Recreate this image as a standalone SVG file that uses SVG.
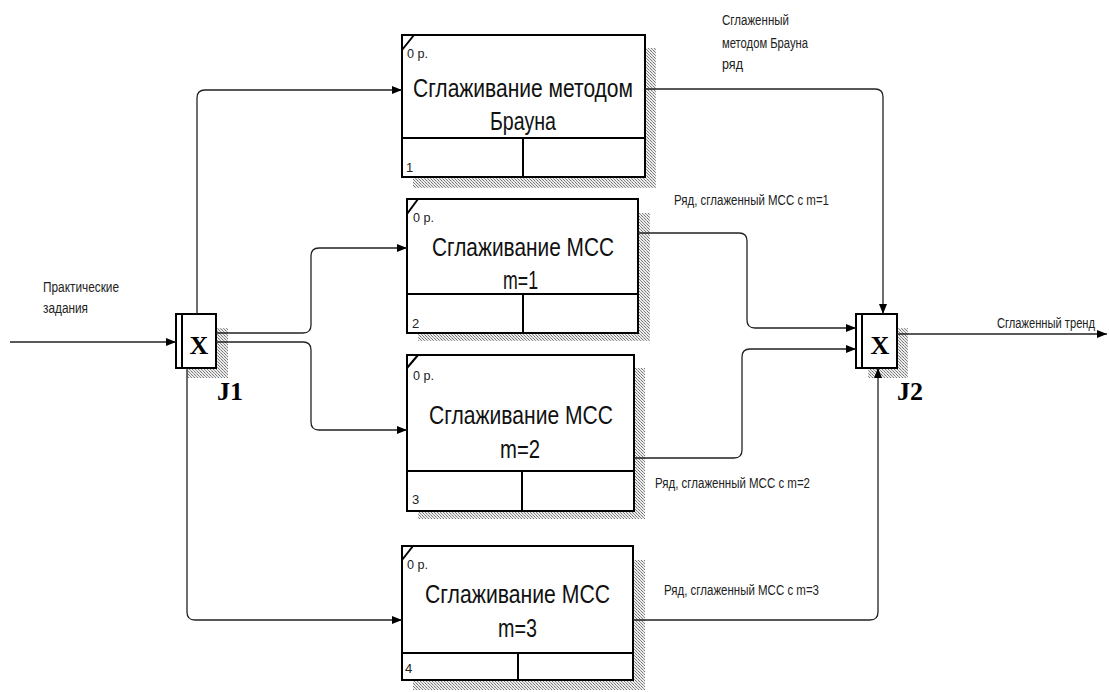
<svg xmlns="http://www.w3.org/2000/svg" width="1109" height="692" viewBox="0 0 1109 692">
<style>
.box{fill:#fff;stroke:#000;stroke-width:2}
.div{stroke:#000;stroke-width:2;fill:none}
.sh{fill:url(#hatch)}
.title{font-family:"Liberation Sans Narrow","Liberation Sans",Arial,sans-serif;font-size:25px;fill:#111}
.small{font-family:"Liberation Sans Narrow","Liberation Sans",Arial,sans-serif;font-size:13px;fill:#222}
.lbl{font-family:"Liberation Sans Narrow","Liberation Sans",Arial,sans-serif;font-size:14px;fill:#222}
.jx{font-family:"Liberation Serif","Times New Roman",serif;font-weight:bold;font-size:26px;fill:#000}
.jl{font-family:"Liberation Serif","Times New Roman",serif;font-weight:bold;font-size:26px;fill:#000}
.con{fill:none;stroke:#222;stroke-width:1.3}
</style>
<defs>
<pattern id="hatch" width="3" height="3" patternUnits="userSpaceOnUse">
<rect width="3" height="3" fill="#ececec"/>
<rect x="0" y="0" width="1" height="1" fill="#777"/>
<rect x="1" y="1" width="1" height="1" fill="#999"/>
<rect x="2" y="2" width="1" height="1" fill="#777"/>
</pattern>
<marker id="arr" viewBox="0 0 10 10" refX="10" refY="5" markerWidth="10" markerHeight="10" markerUnits="userSpaceOnUse" orient="auto">
<path d="M0,1 L10,5 L0,9 Z" fill="#000"/>
</marker>
</defs>
<rect width="1109" height="692" fill="#fff"/>

<g id="box1">
<rect class="sh" x="645" y="48" width="11" height="140"/>
<rect class="sh" x="413" y="177" width="243" height="11"/>
<rect class="box" x="402" y="35" width="243" height="142"/>
<line class="div" x1="402" y1="138" x2="645" y2="138"/>
<line class="div" x1="523" y1="138" x2="523" y2="177"/>
<line class="div" x1="402" y1="50" x2="414" y2="35"/>
<text class="small" x="407" y="58" textLength="21" lengthAdjust="spacingAndGlyphs">0 р.</text>
<text class="title" x="413" y="97" textLength="220" lengthAdjust="spacingAndGlyphs">Сглаживание методом</text>
<text class="title" x="490" y="130" textLength="66" lengthAdjust="spacingAndGlyphs">Брауна</text>
<text class="small" x="406" y="172">1</text>
</g>

<g id="box2">
<rect class="sh" x="638" y="213" width="12" height="128"/>
<rect class="sh" x="418" y="333" width="232" height="8"/>
<rect class="box" x="407" y="199" width="231" height="134"/>
<line class="div" x1="407" y1="294" x2="638" y2="294"/>
<line class="div" x1="523" y1="294" x2="523" y2="333"/>
<line class="div" x1="407" y1="214" x2="418" y2="199"/>
<text class="small" x="413" y="222" textLength="21" lengthAdjust="spacingAndGlyphs">0 р.</text>
<text class="title" x="432" y="256" textLength="182" lengthAdjust="spacingAndGlyphs">Сглаживание МСС</text>
<text class="title" x="503" y="289" textLength="35" lengthAdjust="spacingAndGlyphs">m=1</text>
<text class="small" x="412" y="328">2</text>
</g>

<g id="box3">
<rect class="sh" x="634" y="368" width="11" height="151"/>
<rect class="sh" x="418" y="511" width="227" height="8"/>
<rect class="box" x="407" y="355" width="227" height="156"/>
<line class="div" x1="407" y1="471" x2="634" y2="471"/>
<line class="div" x1="522" y1="471" x2="522" y2="511"/>
<line class="div" x1="407" y1="368" x2="418" y2="355"/>
<text class="small" x="413" y="380" textLength="21" lengthAdjust="spacingAndGlyphs">0 р.</text>
<text class="title" x="429" y="424" textLength="184" lengthAdjust="spacingAndGlyphs">Сглаживание МСС</text>
<text class="title" x="500" y="458" textLength="40" lengthAdjust="spacingAndGlyphs">m=2</text>
<text class="small" x="412" y="504">3</text>
</g>

<g id="box4">
<rect class="sh" x="633" y="560" width="12" height="130"/>
<rect class="sh" x="413" y="680" width="232" height="10"/>
<rect class="box" x="402" y="546" width="231" height="134"/>
<line class="div" x1="402" y1="653" x2="633" y2="653"/>
<line class="div" x1="518" y1="653" x2="518" y2="680"/>
<line class="div" x1="402" y1="560" x2="413" y2="546"/>
<text class="small" x="407" y="569" textLength="21" lengthAdjust="spacingAndGlyphs">0 р.</text>
<text class="title" x="425" y="603" textLength="185" lengthAdjust="spacingAndGlyphs">Сглаживание МСС</text>
<text class="title" x="498" y="637" textLength="39" lengthAdjust="spacingAndGlyphs">m=3</text>
<text class="small" x="405" y="673">4</text>
</g>

<g id="J1">
<rect class="sh" x="216" y="328" width="12" height="50"/>
<rect class="sh" x="187" y="368" width="41" height="10"/>
<rect class="box" x="176" y="314" width="40" height="54"/>
<line class="div" x1="182" y1="314" x2="182" y2="368"/>
<text class="jx" x="199" y="354" text-anchor="middle">X</text>
<text class="jl" x="217" y="400">J1</text>
</g>

<g id="J2">
<rect class="sh" x="897" y="328" width="11" height="50"/>
<rect class="sh" x="868" y="368" width="40" height="10"/>
<rect class="box" x="856" y="314" width="41" height="54"/>
<line class="div" x1="862" y1="314" x2="862" y2="368"/>
<text class="jx" x="880" y="354" text-anchor="middle">X</text>
<text class="jl" x="897" y="400">J2</text>
</g>

<g id="connectors">
<path class="con" d="M10,342 H176" marker-end="url(#arr)"/>
<path class="con" d="M197,314 V98 Q197,90 205,90 H402" marker-end="url(#arr)"/>
<path class="con" d="M216,333 H303 Q311,333 311,325 V256 Q311,248 319,248 H407" marker-end="url(#arr)"/>
<path class="con" d="M216,342 H303 Q311,342 311,350 V422 Q311,430 319,430 H407" marker-end="url(#arr)"/>
<path class="con" d="M187,368 V612 Q187,620 195,620 H402" marker-end="url(#arr)"/>
<path class="con" d="M645,89 H875 Q883,89 883,97 V314" marker-end="url(#arr)"/>
<path class="con" d="M638,233 H739 Q747,233 747,241 V320 Q747,328 755,328 H856" marker-end="url(#arr)"/>
<path class="con" d="M634,458 H734 Q742,458 742,450 V357 Q742,349 750,349 H856" marker-end="url(#arr)"/>
<path class="con" d="M633,620 H870 Q878,620 878,612 V368" marker-end="url(#arr)"/>
<path class="con" d="M897,334 H1107" marker-end="url(#arr)"/>
</g>

<g id="labels">
<text class="lbl" x="43" y="292" textLength="76" lengthAdjust="spacingAndGlyphs">Практические</text>
<text class="lbl" x="43" y="313" textLength="45" lengthAdjust="spacingAndGlyphs">задания</text>
<text class="lbl" x="722" y="25" textLength="67" lengthAdjust="spacingAndGlyphs">Сглаженный</text>
<text class="lbl" x="722" y="48" textLength="86" lengthAdjust="spacingAndGlyphs">методом Брауна</text>
<text class="lbl" x="722" y="69" textLength="21" lengthAdjust="spacingAndGlyphs">ряд</text>
<text class="lbl" x="674" y="205" textLength="155" lengthAdjust="spacingAndGlyphs">Ряд, сглаженный МСС с m=1</text>
<text class="lbl" x="655" y="488" textLength="155" lengthAdjust="spacingAndGlyphs">Ряд, сглаженный МСС с m=2</text>
<text class="lbl" x="664" y="595" textLength="155" lengthAdjust="spacingAndGlyphs">Ряд, сглаженный МСС с m=3</text>
<text class="lbl" x="997" y="328" textLength="98" lengthAdjust="spacingAndGlyphs">Сглаженный тренд</text>
</g>
</svg>
